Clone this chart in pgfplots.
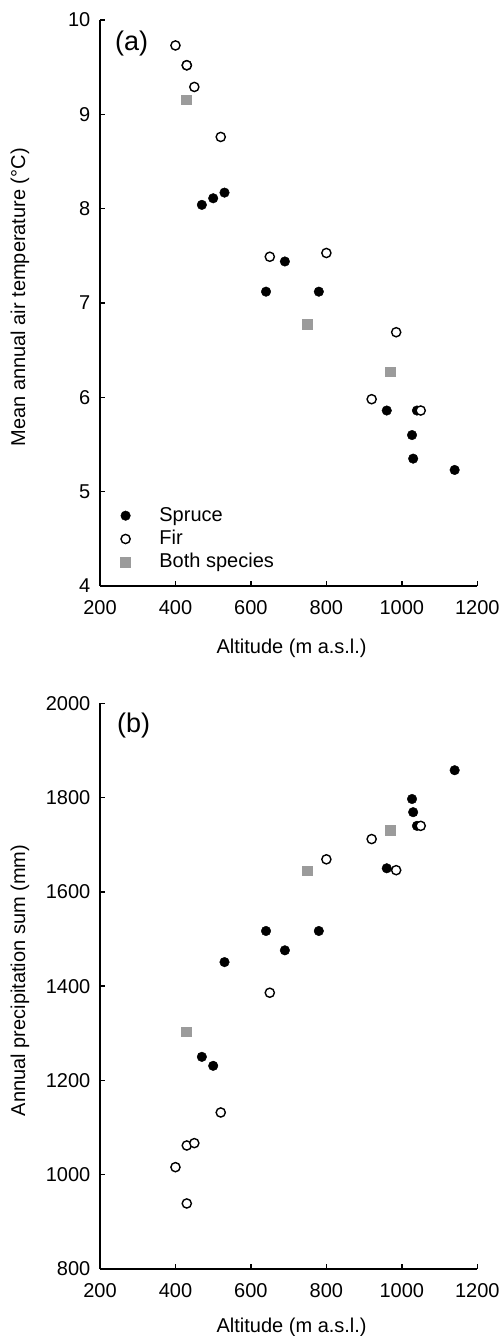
\documentclass[border=0pt]{standalone}
\usepackage{fontspec}
\setmainfont{Liberation Sans}
\usepackage{pgfplots}
\usepackage{pgfplotstable}
\pgfplotsset{compat=1.18}

\pgfplotstableread{
alt temp prec
470 8.04 1250
500 8.11 1231
530 8.17 1451
640 7.12 1517
690 7.44 1476
780 7.12 1517
960 5.86 1650
1027 5.60 1797
1030 5.35 1769
1040 5.86 1740
1140 5.23 1858
}\spruce
\pgfplotstableread{
alt temp prec
400 9.73 1016
430 9.52 1062
430 9.52 939
450 9.29 1067
520 8.76 1132
650 7.49 1386
800 7.53 1669
920 5.98 1712
985 6.69 1646
1050 5.86 1740
}\fir
\pgfplotstableread{
alt temp prec
430 9.15 1303
750 6.77 1644
970 6.27 1730
}\both

\definecolor{bothgray}{RGB}{155,155,155}

\pgfplotsset{
  panel/.style={
    scale only axis, width=188.65pt,
    xmin=200, xmax=1200,
    axis x line*=bottom, axis y line*=left,
    axis line style={line width=0.7pt},
    tick align=inside, major tick length=2.7pt,
    tick style={line width=0.7pt, black},
    xtick={200,400,...,1200},
    minor tick num=0,
    ticklabel style={font=\fontsize{10}{12}\selectfont},
    xticklabel style={yshift=-3.5pt},
    yticklabel style={xshift=-1.3pt},
    /pgf/number format/assume math mode=true,
    /pgf/number format/1000 sep={},
    label style={font=\fontsize{10}{12}\selectfont},
    xlabel={Altitude (m a.s.l.)},
    clip=false,
  },
  sprucestyle/.style={only marks, color=black, mark=*, mark size=2.4pt, mark options={fill=black, draw=black, line width=0.2pt}},
  firstyle/.style={only marks, color=black, mark=*, mark size=2.3pt, mark options={fill=white, draw=black, line width=0.7pt}},
  bothstyle/.style={only marks, color=bothgray, mark=square*, mark size=2.4pt, mark options={fill=bothgray, draw=bothgray, line width=0pt}},
}

\begin{document}
\begin{tikzpicture}
\useasboundingbox (0,0) rectangle (251pt,668pt);

\begin{axis}[panel,
  at={(50pt,375pt)}, anchor=south west, height=283pt,
  ymin=4, ymax=10, ytick={4,5,...,10},
  ylabel={Mean annual air temperature (°C)},
  xlabel style={at={(axis description cs:0.5,0)}, anchor=center, yshift=-31pt, xshift=1.5pt},
  ylabel style={at={(axis description cs:-0.212,0.51)}, anchor=center},
  legend cell align=left,
  legend style={draw=none, fill=none, inner sep=0pt,
    at={(axis description cs:0,0)}, anchor=south west, xshift=10.2pt, yshift=6.4pt,
    font=\fontsize{10}{12}\selectfont,
    nodes={inner xsep=1pt, inner ysep=0.5pt, text height=7.5pt, text depth=2pt},
    row sep=1.15pt, column sep=13.5pt},
]
\addplot[sprucestyle] table[x=alt, y=temp] {\spruce};
\addlegendentry{Spruce}
\addplot[firstyle] table[x=alt, y=temp] {\fir};
\addlegendentry{Fir}
\addplot[bothstyle] table[x=alt, y=temp] {\both};
\addlegendentry{Both species}
\node[font=\fontsize{13.5}{16}\selectfont] at (rel axis cs:0.084,0.959) {(a)};
\end{axis}

\begin{axis}[panel,
  at={(50pt,33.5pt)}, anchor=south west, height=282.85pt,
  ymin=800, ymax=2000, ytick={800,1000,...,2000},
  ylabel={Annual precipitation sum (mm)},
  xlabel style={at={(axis description cs:0.5,0)}, anchor=center, yshift=-29pt, xshift=1.5pt},
  ylabel style={at={(axis description cs:-0.212,0.51)}, anchor=center},
]
\addplot[sprucestyle] table[x=alt, y=prec] {\spruce};
\addplot[firstyle] table[x=alt, y=prec] {\fir};
\addplot[bothstyle] table[x=alt, y=prec] {\both};
\node[font=\fontsize{13.5}{16}\selectfont] at (rel axis cs:0.089,0.960) {(b)};
\end{axis}
\end{tikzpicture}
\end{document}
